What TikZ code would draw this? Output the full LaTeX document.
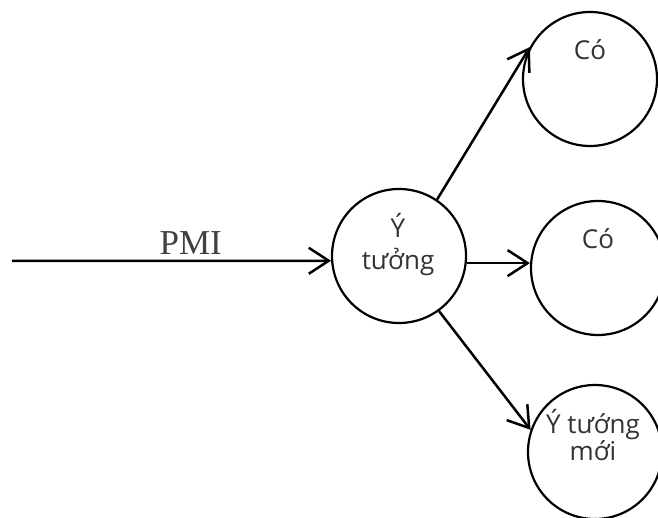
\documentclass[tikz,border=0pt]{standalone}
\usepackage{fontspec}
\setmainfont{Liberation Serif}
\newfontfamily\ideafont{Open Sans}
\usetikzlibrary{arrows.meta, positioning}

\begin{document}
\begin{tikzpicture}[x=1pt, y=-1pt,
    idea/.style={circle, draw, line width=2.2pt, minimum size=134pt, inner sep=0pt},
    lbl/.style={anchor=base, font=\ideafont\fontsize{26}{30}\selectfont, text=black!80},
    arr/.style={line width=2.5pt, -{Straight Barb[length=20pt, width=26pt, line width=2.5pt]}}]
    \useasboundingbox (0,0) rectangle (658,518);
    % circles
    \node[idea] (ytuong) at (399,256) {};
    \node[idea] (co1) at (590,79) {};
    \node[idea] (co2) at (598,268) {};
    \node[idea] (moi) at (595,452) {};
    % texts
    \node[lbl] (t1) at (590,60) {Có};
    \node[lbl] (t2) at (598,249) {Có};
    \node[lbl] (y1) at (398,238) {Ý};
    \node[lbl] (y2) at (398,270) {tưởng};
    \node[lbl] (m1) at (593,433) {Ý tướng};
    \node[lbl] (m2) at (593,460) {mới};
    % arrows
    \coordinate (start) at (12,261);
    \draw[arr] (start) -- (ytuong.184)
        node[pos=0.56, anchor=base, yshift=6pt, font=\fontsize{35}{40}\selectfont, text=black!75] (pmi) {PMI};
    \draw[arr] (ytuong.56) -- (co1.152);
    \draw[arr] (ytuong.-6) -- (ytuong.-6 -| co2.west);
    \draw[arr] (ytuong.-54) -- (moi.161);
\end{tikzpicture}
\end{document}
